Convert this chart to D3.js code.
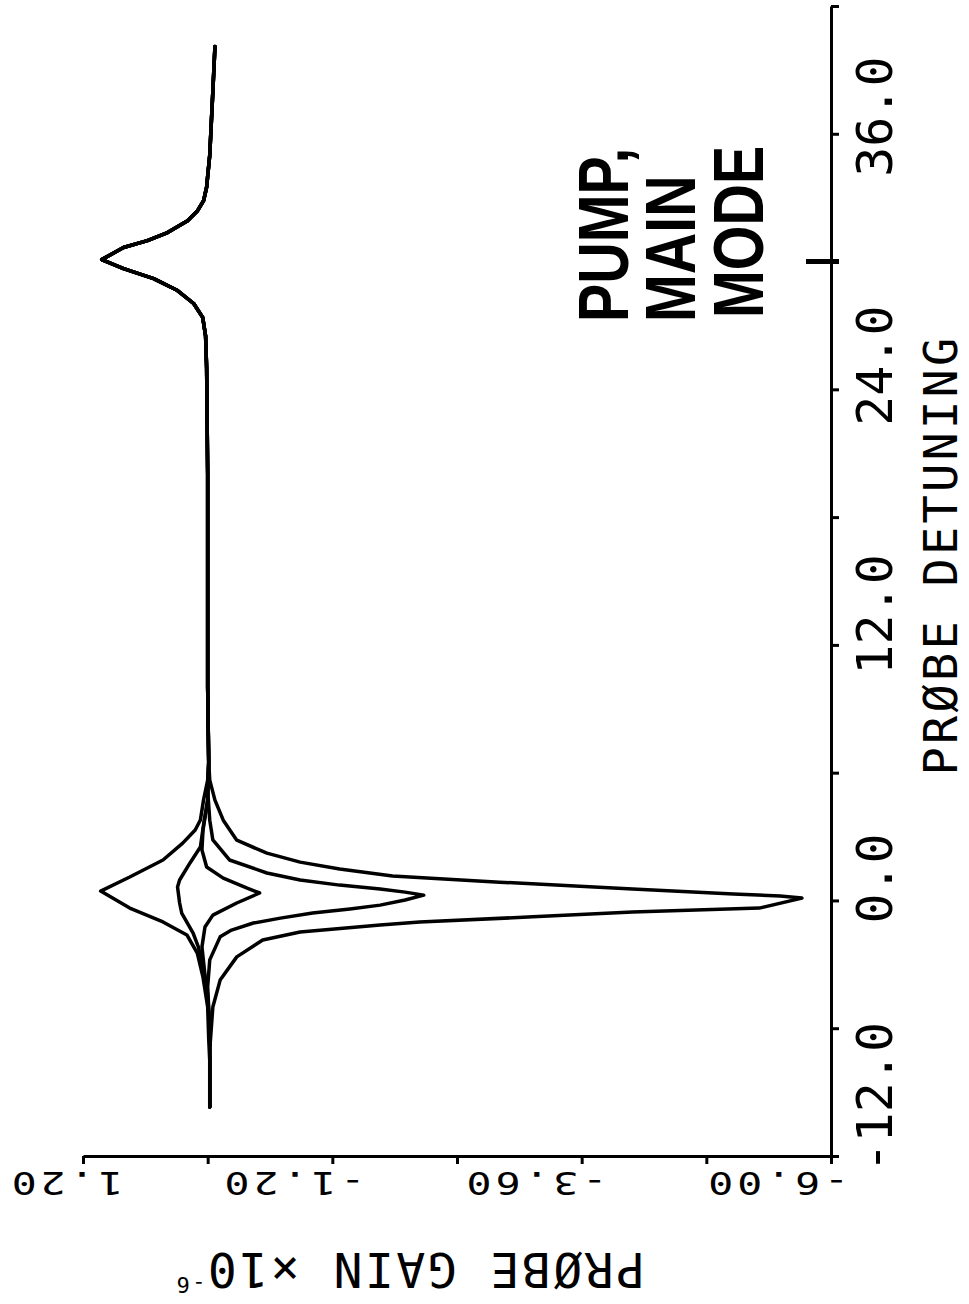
<!DOCTYPE html>
<html><head><meta charset="utf-8">
<script src="https://cdn.jsdelivr.net/npm/d3@7"></script>
<style>body{margin:0;background:#fff;} svg{display:block;}</style>
</head><body>
<svg id="chart" width="969" height="1304"></svg>
<script>
// ---- axis data ----
const detuningTicks = [-12, -6, 0, 6, 12, 18, 24, 30, 36, 42];
const detuningLabels = [-12, 0, 12, 24, 36];
const gainTicks = [1.2, 0, -1.2, -2.4, -3.6, -4.8, -6];
const gainLabels = [1.2, -1.2, -3.6, -6];
const markerDetuning = 30;

// ---- shared tails (all curves coincide here) ----
const lowTailDet  = [-9.7, -8.5, -7.5];
const lowTailGain = [-0.02, -0.02, -0.02];
const highTailDet  = [6.5, 10, 15, 20, 25, 26.5, 27.38, 28.03, 28.64, 29.2, 29.67, 30.09, 30.66, 30.98, 31.36, 31.92, 32.39, 32.86, 33.5, 35, 38, 40.1];
const highTailGain = [-0.01, 0.0, 0.0, 0.0, 0.01, 0.02, 0.048, 0.135, 0.29, 0.52, 0.81, 1.02, 0.81, 0.58, 0.386, 0.193, 0.097, 0.039, 0.01, -0.02, -0.05, -0.07];

// ---- curves near zero detuning ----
const aDet  = [-6.5, -5.0, -3.6, -2.47, -1.62, -1.01, -0.36, 0.44, 1.10, 1.90, 2.69, 3.31, 3.78, 4.71, 5.65];
const aGain = [-0.01, 0.0, 0.045, 0.10, 0.20, 0.43, 0.75, 1.03, 0.75, 0.43, 0.24, 0.12, 0.07, 0.04, 0.0];

const bDet  = [-6.0, -4.43, -3.17, -2.18, -1.53, -0.59, -0.12, 0.63, 0.96, 1.76, 2.51, 3.54, 4.71];
const bGain = [-0.02, 0.0, 0.04, 0.09, 0.14, 0.25, 0.27, 0.29, 0.27, 0.17, 0.07, 0.04, 0.0];

const cDet  = [-6.0, -4.68, -3.5, -2.18, -1.25, -0.69, -0.12, 0.35, 0.58, 1.05, 1.57, 2.37, 3.3, 4.71];
const cGain = [-0.02, 0.0, 0.026, 0.055, 0.026, -0.05, -0.28, -0.50, -0.38, -0.15, 0.01, 0.055, 0.045, 0.0];

const dDet  = [-6.0, -4.06, -2.79, -1.71, -1.39, -1.06, -0.83, -0.59, -0.40, -0.22, 0.02, 0.25, 0.39, 0.54, 0.72, 0.96, 1.29, 1.90, 2.84, 3.77, 5.18];
const dGain = [-0.02, 0.0, -0.02, -0.12, -0.23, -0.44, -0.70, -1.01, -1.37, -1.66, -1.90, -2.08, -1.90, -1.66, -1.27, -0.89, -0.57, -0.21, -0.05, -0.02, 0.0];

const eDet  = [-7.0, -5.0, -3.74, -2.65, -1.86, -1.48, -1.15, -1.01, -0.77, -0.54, -0.36, 0.11, 0.21, 0.30, 0.54, 0.86, 1.15, 1.48, 1.80, 2.22, 2.83, 3.77, 4.71, 5.65];
const eGain = [-0.02, -0.05, -0.12, -0.28, -0.53, -0.89, -1.66, -2.04, -3.13, -4.09, -5.31, -5.72, -5.51, -5.06, -4.09, -2.81, -1.78, -1.27, -0.89, -0.57, -0.28, -0.15, -0.07, -0.02];

const curves = [[aDet, aGain], [bDet, bGain], [cDet, cGain], [dDet, dGain], [eDet, eGain]];

// ---- scales ----
const svg = d3.select("#chart");
const x = d3.scaleLinear().domain([1.2, -6]).range([83, 831]);   // gain -> horizontal
const y = d3.scaleLinear().domain([-12, 42]).range([1156, 6]);   // detuning -> vertical
const fixMinus = s => s.replace("\u2212", "-");

// ---- curves ----
const line = d3.line().x(p => x(p.g)).y(p => y(p.d)).curve(d3.curveLinear);
function build(det, gain) {
  const pts = [];
  lowTailDet.forEach((d, i) => pts.push({d: d, g: lowTailGain[i]}));
  det.forEach((d, i) => pts.push({d: d, g: gain[i]}));
  highTailDet.forEach((d, i) => pts.push({d: d, g: highTailGain[i]}));
  return pts.sort((a, b) => a.d - b.d);
}
svg.append("g").selectAll("path").data(curves).join("path")
  .attr("d", c => line(build(c[0], c[1])))
  .attr("fill", "none").attr("stroke", "#000").attr("stroke-width", 3.5)
  .attr("stroke-linejoin", "round").attr("stroke-linecap", "round");

// ---- gain axis (bottom of picture) ----
const gAxis = svg.append("g").attr("transform", `translate(0,${y(-12)})`)
  .call(d3.axisBottom(x).tickValues(gainTicks).tickSize(8).tickSizeOuter(0)
    .tickFormat(v => gainLabels.some(l => Math.abs(l - v) < 1e-9) ? fixMinus(d3.format(".2f")(v)) : ""));
gAxis.select(".domain").attr("stroke-width", 3);
gAxis.selectAll(".tick line").attr("stroke-width", 3);
gAxis.selectAll(".tick text")
  .attr("y", 0).attr("dy", 0).attr("text-anchor", "start")
  .attr("transform", v => `translate(${40 - 0.03 * (x(v) - 83)},16) rotate(180) scale(1.3,1)`)
  .attr("font-family", "DejaVu Sans Mono").attr("font-size", 32)
  .attr("letter-spacing", 3).attr("fill", "#000");

// ---- detuning axis (right of picture) ----
const dAxis = svg.append("g").attr("transform", `translate(${x(-6)},0)`)
  .call(d3.axisRight(y).tickValues(detuningTicks).tickSize(8).tickSizeOuter(0)
    .tickFormat(v => detuningLabels.includes(v) ? fixMinus(d3.format(".1f")(v)) : ""));
dAxis.select(".domain").attr("stroke-width", 3);
dAxis.selectAll(".tick line").attr("stroke-width", 3);
dAxis.selectAll(".tick text")
  .attr("x", 0).attr("dy", 0).attr("text-anchor", "start")
  .attr("transform", v => `translate(61,${16 + 0.026 * (1156 - y(v))}) rotate(-90)`)
  .attr("font-family", "DejaVu Sans Mono").attr("font-size", 50)
  .attr("fill", "#000");
// marker at the second resonance
dAxis.append("line").attr("x1", -25).attr("x2", 8)
  .attr("y1", y(markerDetuning)).attr("y2", y(markerDetuning))
  .attr("stroke", "#000").attr("stroke-width", 5);

// ---- axis titles ----
const gt = svg.append("text").attr("transform", "translate(645,1253) rotate(180)")
  .attr("font-family", "DejaVu Sans Mono").attr("font-size", 48)
  .attr("letter-spacing", 2.5).attr("fill", "#000");
gt.append("tspan").text("PRØBE GAIN ×10");
gt.append("tspan").attr("font-size", 22).attr("dy", -24).text("-6");

svg.append("text").attr("transform", "translate(957,555) rotate(-90)")
  .attr("text-anchor", "middle")
  .attr("font-family", "DejaVu Sans Mono").attr("font-size", 47)
  .attr("letter-spacing", 3.2).attr("fill", "#000")
  .text("PRØBE DETUNING");

// ---- annotation ----
const notes = [["PUMP,", 628, 322], ["MAIN", 695, 322], ["MODE", 763, 318]];
svg.append("g").selectAll("text").data(notes).join("text")
  .attr("transform", n => `translate(${n[1]},${n[2]}) rotate(-90) scale(0.82,1)`)
  .attr("font-family", "Liberation Sans, Arial, sans-serif").attr("font-weight", "bold")
  .attr("font-size", 70).attr("fill", "#000")
  .text(n => n[0]);
</script>
</body></html>
